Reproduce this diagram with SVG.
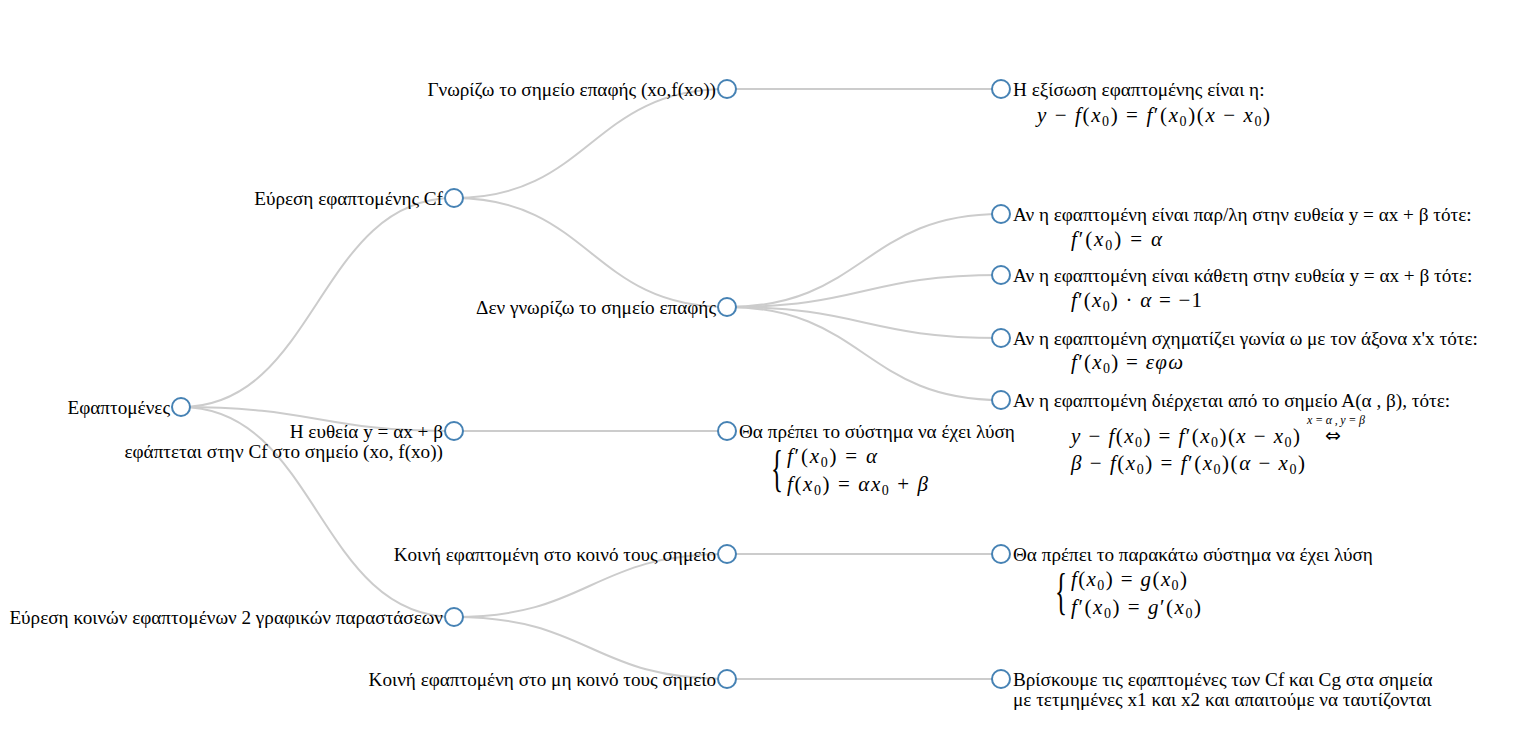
<svg xmlns="http://www.w3.org/2000/svg" width="1513" height="745" viewBox="0 0 1513 745">
<style>
.link{fill:none;stroke:#ccc;stroke-width:2}
.node circle{fill:#fff;stroke:#4682b4;stroke-width:2}
text{font-family:"Liberation Serif","DejaVu Serif",serif;font-size:19.2px;fill:#000}
.m{font-size:21px}
.i{font-style:italic}
.s{font-size:14px}
.sup{font-size:12px;font-style:italic}
.arr{font-family:"DejaVu Sans",sans-serif;font-size:19px}
.br{font-size:50px}
</style>
<rect width="1513" height="745" fill="#fff"/>
<g id="links">
<path class="link" d="M181,407C317.5,407 317.5,198 454,198"/>
<path class="link" d="M181,407C317.5,407 317.5,431 454,431"/>
<path class="link" d="M181,407C317.5,407 317.5,617 454,617"/>
<path class="link" d="M454,198C590.5,198 590.5,89 727,89"/>
<path class="link" d="M454,198C590.5,198 590.5,307 727,307"/>
<path class="link" d="M454,431C590.5,431 590.5,431 727,431"/>
<path class="link" d="M454,617C590.5,617 590.5,554 727,554"/>
<path class="link" d="M454,617C590.5,617 590.5,679 727,679"/>
<path class="link" d="M727,89C864,89 864,89 1001,89"/>
<path class="link" d="M727,307C864,307 864,214 1001,214"/>
<path class="link" d="M727,307C864,307 864,275 1001,275"/>
<path class="link" d="M727,307C864,307 864,338 1001,338"/>
<path class="link" d="M727,307C864,307 864,400 1001,400"/>
<path class="link" d="M727,554C864,554 864,554 1001,554"/>
<path class="link" d="M727,679C864,679 864,679 1001,679"/>
</g>
<g id="n-root" class="node"><circle cx="181" cy="407" r="9"/><text x="170" y="414" text-anchor="end">Εφαπτομένες</text></g>
<g id="n-cf" class="node"><circle cx="454" cy="198" r="9"/><text x="443" y="205" text-anchor="end">Εύρεση εφαπτομένης Cf</text></g>
<g id="n-line" class="node"><circle cx="454" cy="431" r="9"/><text x="443" y="438" text-anchor="end">Η ευθεία y = αx + β</text><text x="443" y="458" text-anchor="end">εφάπτεται στην Cf στο σημείο (xo, f(xo))</text></g>
<g id="n-common" class="node"><circle cx="454" cy="617" r="9"/><text x="443" y="624" text-anchor="end">Εύρεση κοινών εφαπτομένων 2 γραφικών παραστάσεων</text></g>
<g id="n-know" class="node"><circle cx="727" cy="89" r="9"/><text x="716" y="96" text-anchor="end">Γνωρίζω το σημείο επαφής (xo,f(xo))</text></g>
<g id="n-dontknow" class="node"><circle cx="727" cy="307" r="9"/><text x="716" y="314" text-anchor="end">Δεν γνωρίζω το σημείο επαφής</text></g>
<g id="n-system" class="node"><circle cx="727" cy="431" r="9"/><text x="739" y="438">Θα πρέπει το σύστημα να έχει λύση</text>
<text class="br" x="0" y="0" transform="translate(771,485) scale(0.5,1)">{</text>
<text class="m" x="787" y="463" textLength="90" lengthAdjust="spacing"><tspan class="i">f</tspan>′(<tspan class="i">x</tspan><tspan class="s" dy="4">0</tspan><tspan dy="-4">) = </tspan><tspan class="i">α</tspan></text>
<text class="m" x="787" y="491" textLength="141" lengthAdjust="spacing"><tspan class="i">f</tspan>(<tspan class="i">x</tspan><tspan class="s" dy="4">0</tspan><tspan dy="-4">) = </tspan><tspan class="i">αx</tspan><tspan class="s" dy="4">0</tspan><tspan dy="-4"> + </tspan><tspan class="i">β</tspan></text>
</g>
<g id="n-commonpt" class="node"><circle cx="727" cy="554" r="9"/><text x="716" y="561" text-anchor="end">Κοινή εφαπτομένη στο κοινό τους σημείο</text></g>
<g id="n-noncommonpt" class="node"><circle cx="727" cy="679" r="9"/><text x="716" y="686" text-anchor="end">Κοινή εφαπτομένη στο μη κοινό τους σημείο</text></g>
<g id="n-eq" class="node"><circle cx="1001" cy="89" r="9"/><text x="1013" y="96">Η εξίσωση εφαπτομένης είναι η:</text>
<text class="m" x="1037" y="122" textLength="233" lengthAdjust="spacing"><tspan class="i">y</tspan> − <tspan class="i">f</tspan>(<tspan class="i">x</tspan><tspan class="s" dy="4">0</tspan><tspan dy="-4">) = </tspan><tspan class="i">f</tspan>′(<tspan class="i">x</tspan><tspan class="s" dy="4">0</tspan><tspan dy="-4">)(</tspan><tspan class="i">x</tspan> − <tspan class="i">x</tspan><tspan class="s" dy="4">0</tspan><tspan dy="-4">)</tspan></text></g>
<g id="n-par" class="node"><circle cx="1001" cy="214" r="9"/><text x="1013" y="221">Αν η εφαπτομένη είναι παρ/λη στην ευθεία y = αx + β τότε:</text>
<text class="m" x="1071" y="246" textLength="91" lengthAdjust="spacing"><tspan class="i">f</tspan>′(<tspan class="i">x</tspan><tspan class="s" dy="4">0</tspan><tspan dy="-4">) = </tspan><tspan class="i">α</tspan></text></g>
<g id="n-perp" class="node"><circle cx="1001" cy="275" r="9"/><text x="1013" y="282">Αν η εφαπτομένη είναι κάθετη στην ευθεία y = αx + β τότε:</text>
<text class="m" x="1071" y="307" textLength="131" lengthAdjust="spacing"><tspan class="i">f</tspan>′(<tspan class="i">x</tspan><tspan class="s" dy="4">0</tspan><tspan dy="-4">) · </tspan><tspan class="i">α</tspan> = −1</text></g>
<g id="n-angle" class="node"><circle cx="1001" cy="338" r="9"/><text x="1013" y="345">Αν η εφαπτομένη σχηματίζει γωνία ω με τον άξονα x'x τότε:</text>
<text class="m" x="1071" y="369" textLength="112" lengthAdjust="spacing"><tspan class="i">f</tspan>′(<tspan class="i">x</tspan><tspan class="s" dy="4">0</tspan><tspan dy="-4">) = </tspan><tspan class="i">εφω</tspan></text></g>
<g id="n-through" class="node"><circle cx="1001" cy="400" r="9"/><text x="1013" y="407">Αν η εφαπτομένη διέρχεται από το σημείο Α(α , β), τότε:</text>
<text class="m" x="1071" y="443" textLength="229" lengthAdjust="spacing"><tspan class="i">y</tspan> − <tspan class="i">f</tspan>(<tspan class="i">x</tspan><tspan class="s" dy="4">0</tspan><tspan dy="-4">) = </tspan><tspan class="i">f</tspan>′(<tspan class="i">x</tspan><tspan class="s" dy="4">0</tspan><tspan dy="-4">)(</tspan><tspan class="i">x</tspan> − <tspan class="i">x</tspan><tspan class="s" dy="4">0</tspan><tspan dy="-4">)</tspan></text>
<text class="sup" x="1307" y="424" textLength="58" lengthAdjust="spacing">x=α,y=β</text>
<text class="arr" x="1325" y="442">⇔</text>
<text class="m" x="1071" y="470" textLength="234" lengthAdjust="spacing"><tspan class="i">β</tspan> − <tspan class="i">f</tspan>(<tspan class="i">x</tspan><tspan class="s" dy="4">0</tspan><tspan dy="-4">) = </tspan><tspan class="i">f</tspan>′(<tspan class="i">x</tspan><tspan class="s" dy="4">0</tspan><tspan dy="-4">)(</tspan><tspan class="i">α</tspan> − <tspan class="i">x</tspan><tspan class="s" dy="4">0</tspan><tspan dy="-4">)</tspan></text></g>
<g id="n-system2" class="node"><circle cx="1001" cy="554" r="9"/><text x="1013" y="561">Θα πρέπει το παρακάτω σύστημα να έχει λύση</text>
<text class="br" x="0" y="0" transform="translate(1055,608) scale(0.5,1)">{</text>
<text class="m" x="1071" y="586" textLength="116" lengthAdjust="spacing"><tspan class="i">f</tspan>(<tspan class="i">x</tspan><tspan class="s" dy="4">0</tspan><tspan dy="-4">) = </tspan><tspan class="i">g</tspan>(<tspan class="i">x</tspan><tspan class="s" dy="4">0</tspan><tspan dy="-4">)</tspan></text>
<text class="m" x="1071" y="614" textLength="130" lengthAdjust="spacing"><tspan class="i">f</tspan>′(<tspan class="i">x</tspan><tspan class="s" dy="4">0</tspan><tspan dy="-4">) = </tspan><tspan class="i">g</tspan>′(<tspan class="i">x</tspan><tspan class="s" dy="4">0</tspan><tspan dy="-4">)</tspan></text></g>
<g id="n-find" class="node"><circle cx="1001" cy="679" r="9"/><text x="1013" y="686">Βρίσκουμε τις εφαπτομένες των Cf και Cg στα σημεία</text><text x="1013" y="706">με τετμημένες x1 και x2 και απαιτούμε να ταυτίζονται</text></g>
</svg>
